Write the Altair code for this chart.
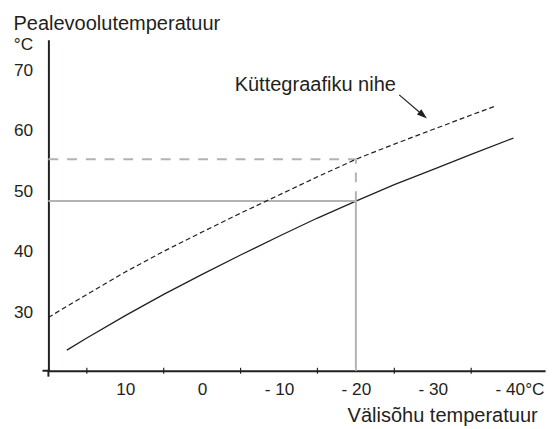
import altair as alt
import pandas as pd

# ---- data ----
outdoor_base = [17.6, 15, 10, 5, 0, -5, -10, -15, -20, -25, -30, -35, -40.5]
supply_base = [23.8, 25.8, 29.5, 33.0, 36.3, 39.5, 42.6, 45.6, 48.4, 51.1, 53.6, 56.1, 58.8]

outdoor_shift = [20, 15, 10, 5, 0, -5, -10, -15, -20, -25, -30, -35, -38.2]
supply_shift = [29.2, 33.0, 36.7, 40.1, 43.3, 46.4, 49.4, 52.4, 55.3, 57.8, 60.2, 62.6, 64.1]

x_tick_marks = [15, 5, -5, -15, -25, -35]
x_label_values = [10, 0, -10, -20, -30, -40]
y_label_values = [30, 40, 50, 60, 70]
y_unit_pos = [74.2]

axis_origin_x = 20
ref_outdoor = -20
ref_supply = 48.4
ref_supply_shift = 55.3

annot_text = ["Küttegraafiku nihe"]
annot_x = [-4.23]
annot_y = [66.58]
arrow_x = [-25.64]
arrow_y = [65.93]
arrow_head_x = [-28.74]
arrow_head_y = [62.57]

y_title = "Pealevoolutemperatuur"
x_title = "Välisõhu temperatuur"

# ---- layout ----
W, H = 504, 336
X_MIN, X_MAX = -44.615, 20
Y_MIN, Y_MAX = 20.4, 75.04
FONT = "Liberation Sans, Arial, Helvetica, sans-serif"
INK = "#231f20"
GRAY = "#b3b3b3"
TITLE_SIZE = 20.3

xs = alt.Scale(domain=[X_MIN, X_MAX], reverse=True, nice=False, zero=False)
ys = alt.Scale(domain=[Y_MIN, Y_MAX], nice=False, zero=False)

x_axis = alt.Axis(
    values=x_label_values,
    labelExpr="datum.value < 0 ? '- ' + abs(datum.value) + (datum.value == -40 ? '°C' : '') : '' + datum.value",
    ticks=False, tickSize=0, grid=False,
    domainColor=INK, domainWidth=2,
    labelFont=FONT, labelFontSize=17.5, labelColor=INK, labelPadding=10.5,
    labelFlush=False, labelOverlap=False,
    labelOffset={"condition": {"test": "datum.value == -40", "value": 10}, "value": 0},
    title=x_title, titleFont=FONT, titleFontSize=TITLE_SIZE, titleFontWeight="normal",
    titleColor=INK, titleX=496, titleY=52, titleAlign="right",
    titleBaseline="alphabetic", titleAngle=0,
)
y_axis = alt.Axis(
    values=y_label_values + y_unit_pos,
    labelExpr="datum.value > 72 ? '°C' : datum.label",
    ticks=False, tickSize=0, grid=False,
    domainColor=INK, domainWidth=2,
    labelFont=FONT, labelFontSize=17.5, labelColor=INK, labelPadding=16,
    labelFlush=False, labelOverlap=False,
    title=y_title, titleFont=FONT, titleFontSize=TITLE_SIZE, titleFontWeight="normal",
    titleColor=INK, titleX=-36, titleY=-10, titleAlign="left",
    titleBaseline="alphabetic", titleAngle=0,
)


def X(field):
    return alt.X(field, type="quantitative", scale=xs, axis=x_axis)


def Y(field):
    return alt.Y(field, type="quantitative", scale=ys, axis=y_axis)


base_df = pd.DataFrame({"x": outdoor_base, "y": supply_base})
shift_df = pd.DataFrame({"x": outdoor_shift, "y": supply_shift})

base_line = alt.Chart(base_df).mark_line(color=INK, strokeWidth=1.3).encode(
    x=X("x"), y=Y("y"),
)
shift_line = alt.Chart(shift_df).mark_line(
    color=INK, strokeWidth=1.2, strokeDash=[5, 3]
).encode(x=X("x"), y=Y("y"))

# gray reference lines
h_solid_df = pd.DataFrame({"x1": [axis_origin_x], "x2": [ref_outdoor], "y": [ref_supply]})
h_dash_df = pd.DataFrame({"x1": [axis_origin_x], "x2": [ref_outdoor], "y": [ref_supply_shift]})
v_solid_df = pd.DataFrame({"x": [ref_outdoor], "y1": [Y_MIN], "y2": [ref_supply]})
v_dash_df = pd.DataFrame({"x": [ref_outdoor], "y1": [ref_supply], "y2": [ref_supply_shift]})

h_solid = alt.Chart(h_solid_df).mark_rule(color=GRAY, strokeWidth=2).encode(
    x=X("x1"), x2="x2:Q", y=Y("y"),
)
h_dash = alt.Chart(h_dash_df).mark_rule(color=GRAY, strokeWidth=2, strokeDash=[10, 9]).encode(
    x=X("x1"), x2="x2:Q", y=Y("y"),
)
v_solid = alt.Chart(v_solid_df).mark_rule(color=GRAY, strokeWidth=2).encode(
    x=X("x"), y=Y("y1"), y2="y2:Q",
)
v_dash = alt.Chart(v_dash_df).mark_rule(color=GRAY, strokeWidth=2, strokeDash=[10, 9]).encode(
    x=X("x"), y=Y("y1"), y2="y2:Q",
)

# x-axis ticks crossing the axis line
ticks_df = pd.DataFrame({"x": x_tick_marks})
x_ticks = alt.Chart(ticks_df).mark_rule(color=INK, strokeWidth=1.2).encode(
    x=X("x"), y=alt.value(H - 3), y2=alt.value(H + 3),
)

one = pd.DataFrame({"k": [0]})
y_ext = alt.Chart(one).mark_rule(color=INK, strokeWidth=2).encode(
    x=alt.value(0), y=alt.value(H - 1), y2=alt.value(H + 6),
)
x_ext = alt.Chart(one).mark_rule(color=INK, strokeWidth=2).encode(
    x=alt.value(-6), x2=alt.value(1), y=alt.value(H),
)

# annotation
annot_df = pd.DataFrame({"t": annot_text, "x": annot_x, "y": annot_y})
annot = alt.Chart(annot_df).mark_text(
    align="left", baseline="alphabetic", font=FONT, fontSize=TITLE_SIZE, color=INK
).encode(x=X("x"), y=Y("y"), text="t:N")

arrow_df = pd.DataFrame({"x1": arrow_x, "y1": arrow_y, "x2": arrow_head_x, "y2": arrow_head_y})
arrow_shaft = alt.Chart(arrow_df).mark_rule(color=INK, strokeWidth=1.2).encode(
    x=X("x1"), x2="x2:Q", y=Y("y1"), y2="y2:Q",
)
arrow_head = alt.Chart(arrow_df).mark_point(
    shape="M -1 -0.65 L 1 0 L -1 0.65 Z", size=110, angle=40.6,
    filled=True, color=INK, opacity=1, strokeWidth=0,
).encode(x=X("x2"), y=Y("y2"))

chart = alt.layer(
    base_line, h_solid, h_dash, v_solid, v_dash, shift_line,
    x_ticks, y_ext, x_ext, annot, arrow_shaft, arrow_head,
).properties(
    width=W, height=H,
    autosize=alt.AutoSizeParams(type="none"),
    padding={"left": 41, "top": 29, "right": 6, "bottom": 56},
    background="white",
).configure_view(stroke=None)

chart.save("out.html", embed_options={"renderer": "svg", "actions": False})
